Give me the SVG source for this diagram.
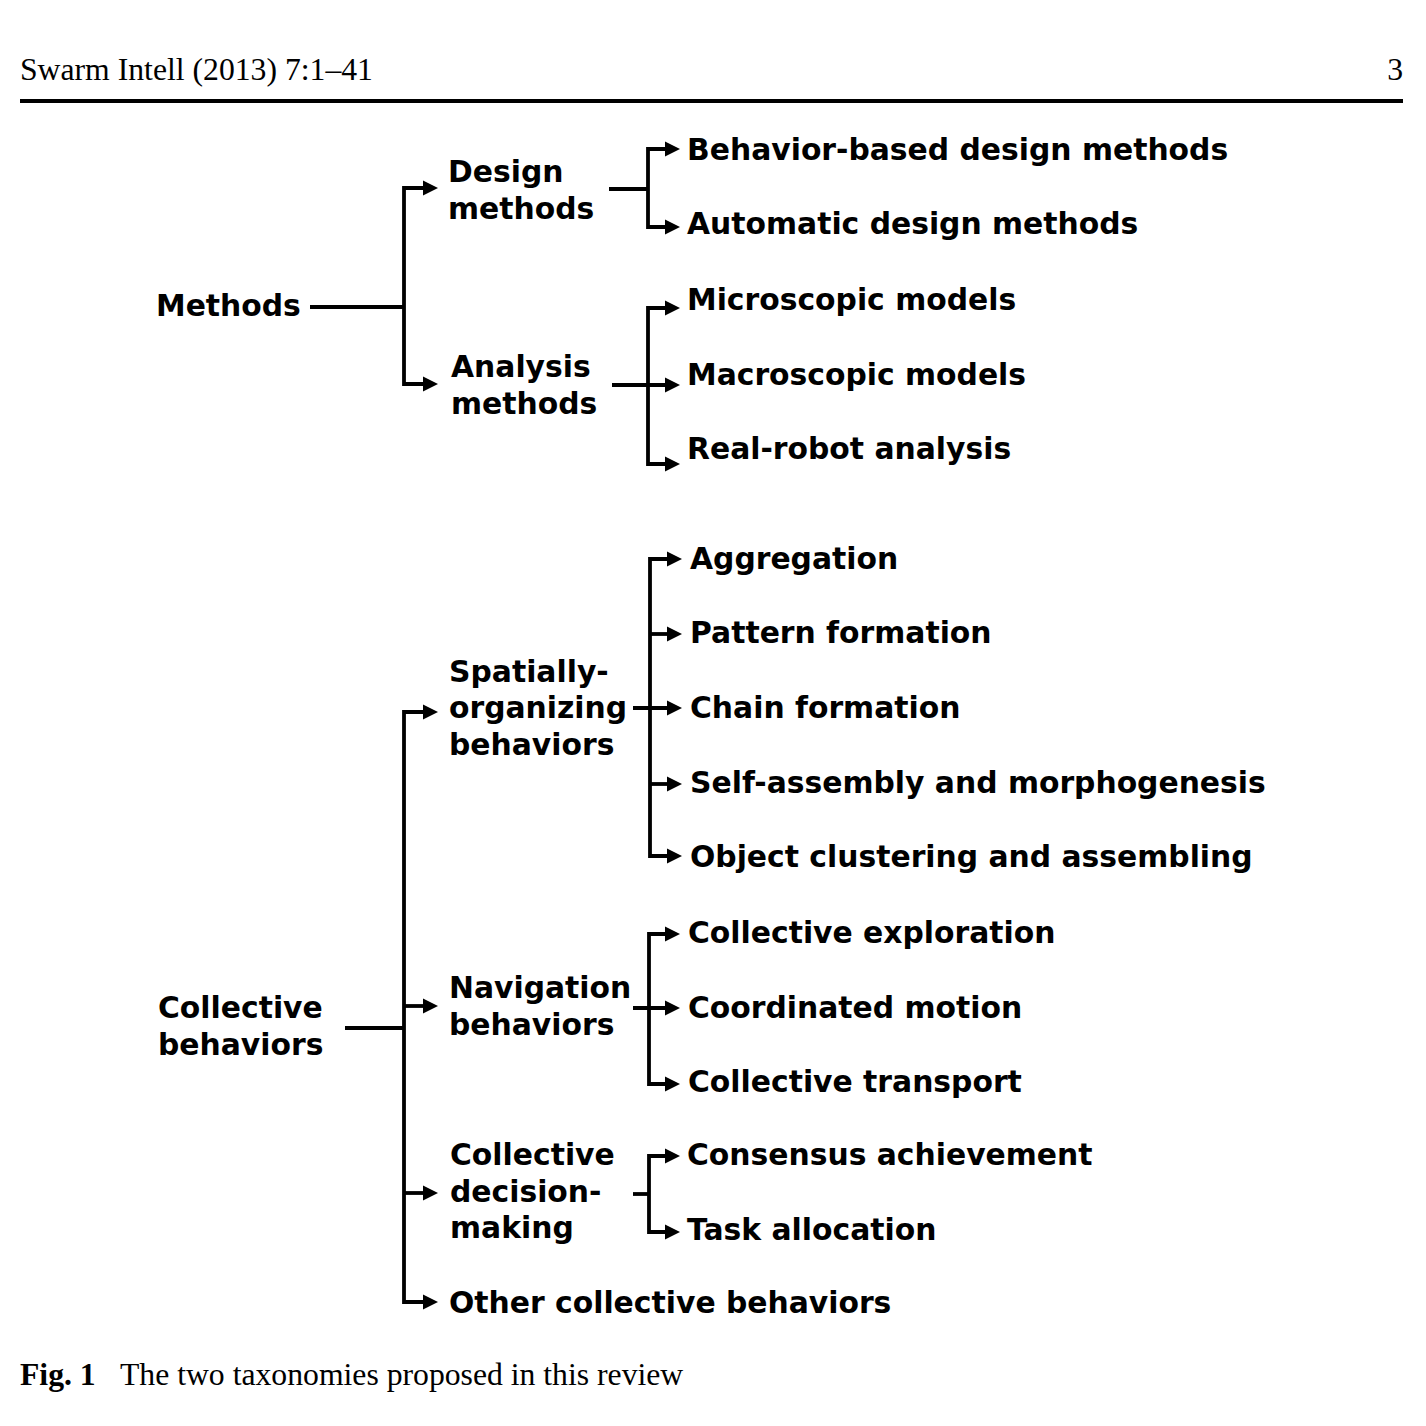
<svg xmlns="http://www.w3.org/2000/svg" width="1426" height="1426" viewBox="0 0 1426 1426">
<style>
.hd{font-family:"Liberation Serif","Times New Roman",serif;font-size:31.7px;fill:#000}
.t{font-family:"DejaVu Sans","Liberation Sans",sans-serif;font-weight:bold;font-size:29.8px;fill:#000}
.c{fill:none;stroke:#000;stroke-width:3.8;stroke-linejoin:miter;stroke-linecap:butt}
</style>
<defs>
<marker id="ah" markerUnits="userSpaceOnUse" markerWidth="15" markerHeight="16" viewBox="0 0 15 16" refX="1" refY="8" orient="auto">
<path d="M0,0.5 L15,8 L0,15.5 z" fill="#000"/>
</marker>
</defs>
<rect width="1426" height="1426" fill="#fff"/>
<g id="header">
<text class="hd" x="20" y="80">Swarm Intell (2013) 7:1–41</text>
<text class="hd" x="1403" y="80" text-anchor="end">3</text>
<rect x="20" y="99" width="1383" height="4" fill="#000"/>
</g>
<g id="connectors">
<path class="c" d="M310,307 H404"/>
<path class="c" marker-end="url(#ah)" d="M404,307 V188 H424"/>
<path class="c" marker-end="url(#ah)" d="M404,307 V384 H424"/>
<path class="c" d="M609,189 H648"/>
<path class="c" marker-end="url(#ah)" d="M648,189 V149 H666"/>
<path class="c" marker-end="url(#ah)" d="M648,189 V227 H666"/>
<path class="c" marker-end="url(#ah)" d="M612,385 H666"/>
<path class="c" marker-end="url(#ah)" d="M648,385 V308 H666"/>
<path class="c" marker-end="url(#ah)" d="M648,385 V464 H666"/>
<path class="c" d="M345,1028 H404"/>
<path class="c" marker-end="url(#ah)" d="M404,1028 V712 H424"/>
<path class="c" marker-end="url(#ah)" d="M404,1028 V1302 H424"/>
<path class="c" marker-end="url(#ah)" d="M404,1006 H424"/>
<path class="c" marker-end="url(#ah)" d="M404,1193 H424"/>
<path class="c" marker-end="url(#ah)" d="M633,708 H668"/>
<path class="c" marker-end="url(#ah)" d="M650,708 V559 H668"/>
<path class="c" marker-end="url(#ah)" d="M650,708 V856 H668"/>
<path class="c" marker-end="url(#ah)" d="M650,634 H668"/>
<path class="c" marker-end="url(#ah)" d="M650,784 H668"/>
<path class="c" marker-end="url(#ah)" d="M633,1008 H666"/>
<path class="c" marker-end="url(#ah)" d="M649,1008 V934 H666"/>
<path class="c" marker-end="url(#ah)" d="M649,1008 V1084 H666"/>
<path class="c" d="M633,1194 H649"/>
<path class="c" marker-end="url(#ah)" d="M649,1194 V1156 H666"/>
<path class="c" marker-end="url(#ah)" d="M649,1194 V1232 H666"/>
</g>
<g id="n-methods"><text class="t" x="156" y="316">Methods</text></g>
<g id="n-design"><text class="t" x="448" y="182">Design</text><text class="t" x="448" y="219">methods</text></g>
<g id="n-analysis"><text class="t" x="451" y="377">Analysis</text><text class="t" x="451" y="414">methods</text></g>
<g id="n-behavior-based"><text class="t" x="687" y="160">Behavior-based design methods</text></g>
<g id="n-automatic"><text class="t" x="687" y="234">Automatic design methods</text></g>
<g id="n-micro"><text class="t" x="687" y="310">Microscopic models</text></g>
<g id="n-macro"><text class="t" x="687" y="385">Macroscopic models</text></g>
<g id="n-real"><text class="t" x="687" y="459">Real-robot analysis</text></g>
<g id="n-collective"><text class="t" x="158" y="1018">Collective</text><text class="t" x="158" y="1055">behaviors</text></g>
<g id="n-spatial"><text class="t" x="449" y="682">Spatially-</text><text class="t" x="449" y="718">organizing</text><text class="t" x="449" y="755">behaviors</text></g>
<g id="n-navigation"><text class="t" x="449" y="998">Navigation</text><text class="t" x="449" y="1035">behaviors</text></g>
<g id="n-decision"><text class="t" x="450" y="1165">Collective</text><text class="t" x="450" y="1202">decision-</text><text class="t" x="450" y="1238">making</text></g>
<g id="n-other"><text class="t" x="449" y="1313">Other collective behaviors</text></g>
<g id="n-aggregation"><text class="t" x="690" y="569">Aggregation</text></g>
<g id="n-pattern"><text class="t" x="690" y="643">Pattern formation</text></g>
<g id="n-chain"><text class="t" x="690" y="718">Chain formation</text></g>
<g id="n-self"><text class="t" x="690" y="793">Self-assembly and morphogenesis</text></g>
<g id="n-object"><text class="t" x="690" y="867">Object clustering and assembling</text></g>
<g id="n-exploration"><text class="t" x="688" y="943">Collective exploration</text></g>
<g id="n-coordinated"><text class="t" x="688" y="1018">Coordinated motion</text></g>
<g id="n-transport"><text class="t" x="688" y="1092">Collective transport</text></g>
<g id="n-consensus"><text class="t" x="687" y="1165">Consensus achievement</text></g>
<g id="n-task"><text class="t" x="687" y="1240">Task allocation</text></g>
<g id="caption">
<text class="hd" x="20" y="1385"><tspan font-weight="bold">Fig. 1</tspan><tspan x="120">The two taxonomies proposed in this review</tspan></text>
</g>
</svg>
